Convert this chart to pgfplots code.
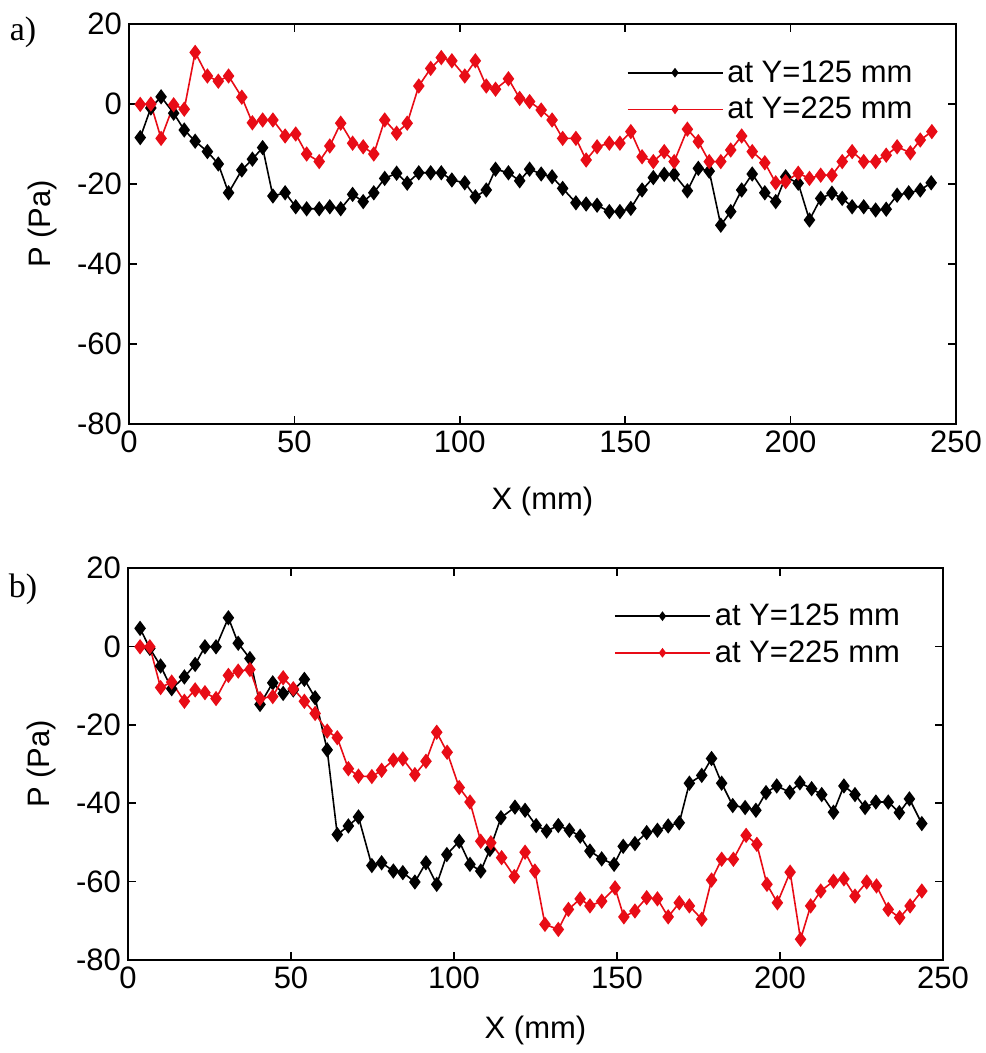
\documentclass[border=0pt]{standalone}
\usepackage{fontspec}
\setmainfont{Liberation Sans}
\newfontfamily\seriffont{Liberation Serif}
\usepackage{pgfplots}
\pgfplotsset{compat=1.18}
\definecolor{mred}{RGB}{232,12,22}

\pgfplotstableread{
x y
3.4 -8.4
6.6 -1.0
9.7 1.8
13.5 -2.3
16.7 -6.5
20.0 -9.3
23.7 -11.9
27.0 -15
30.1 -22.2
34.1 -16.5
37.3 -13.8
40.4 -10.9
43.5 -23
47.2 -22.2
50.4 -25.7
53.7 -26.2
57.5 -26.2
60.7 -25.7
64.0 -26.2
67.6 -22.6
70.8 -24.4
74.0 -22.2
77.3 -18.6
80.9 -17.3
84.1 -19.8
87.6 -17.2
91.2 -17.2
94.4 -17.2
97.6 -19
101.5 -19.7
104.7 -23.2
108.0 -21.5
110.8 -16.3
114.7 -17.2
118.1 -19.2
121.1 -16.3
124.6 -17.5
127.9 -18.2
131.1 -21.1
135.1 -24.7
138.2 -25
141.5 -25.3
145.2 -26.9
148.4 -26.9
151.7 -26.1
155.1 -21.5
158.5 -18.4
161.8 -17.6
164.8 -17.6
168.8 -21.7
172.1 -16.1
175.4 -16.8
178.9 -30.3
181.9 -26.9
185.2 -21.5
188.4 -17.5
192.2 -22.2
195.5 -24.4
198.5 -18.2
202.3 -19.8
205.7 -29
209.1 -23.6
212.5 -22.3
215.6 -23.6
218.6 -25.7
222.1 -25.7
225.7 -26.5
228.9 -26.3
232.2 -22.8
235.7 -22.2
239.2 -21.5
242.5 -19.7
}\topblack

\pgfplotstableread{
x y
3.4 -0.1
6.6 0
9.7 -8.6
13.5 -0.2
16.7 -1.3
20.0 12.9
23.7 7
27.0 5.7
30.1 7
34.1 1.7
37.3 -4.7
40.4 -4
43.5 -4
47.2 -8
50.4 -7.5
53.7 -12.5
57.5 -14.4
60.7 -10.5
64.0 -4.8
67.6 -9.8
70.8 -10.7
74.0 -12.5
77.3 -4
80.9 -7.3
84.1 -4.8
87.6 4.5
91.2 8.9
94.4 11.6
97.6 10.8
101.5 7
104.7 10.8
108.0 4.5
110.8 3.7
114.7 6.3
118.1 1.4
121.1 0.6
124.6 -1.5
127.9 -4
131.1 -8.6
135.1 -8.6
138.2 -14
141.5 -10.7
145.2 -9.8
148.4 -9.8
151.7 -6.9
155.1 -13.2
158.5 -14.4
161.8 -11.9
164.8 -14.4
168.8 -6.3
172.1 -9.4
175.4 -14.4
178.9 -14.4
181.9 -11.5
185.2 -8
188.4 -11.9
192.2 -14.7
195.5 -19.7
198.5 -19.4
202.3 -17.3
205.7 -18.6
209.1 -17.8
212.5 -17.8
215.6 -14.4
218.6 -11.9
222.1 -14.4
225.7 -14.4
228.9 -12.8
232.2 -10.7
236.2 -12.2
239.2 -9
242.7 -6.9
}\topred

\pgfplotstableread{
x y
3.7 4.6
6.7 -0.5
10 -5
13.4 -10.8
17.3 -7.8
20.6 -4.6
23.6 -0.1
27 -0.1
30.8 7.3
33.8 0.8
37.4 -3.1
40.5 -14.8
44.4 -9.3
47.6 -12
50.7 -11.1
54.1 -8.4
57.4 -13.1
61.1 -26.4
64.2 -48
67.6 -45.8
70.7 -43.5
74.8 -55.9
77.8 -55.2
81.4 -57.3
84.3 -57.7
88 -60.1
91.4 -55.2
94.7 -60.7
97.8 -53.1
101.6 -49.7
104.9 -55.6
108.2 -57.3
111 -51.8
114.4 -43.7
118.7 -41
121.8 -41.8
125.2 -45.7
128.4 -47.1
132 -45.7
135.4 -46.9
138.7 -48.4
141.7 -52.2
145.3 -54.2
149.1 -55.6
151.9 -51
155.5 -50.3
159.1 -47.5
162.4 -46.9
165.7 -45.8
169.1 -45
172.2 -34.9
176 -32.9
179 -28.6
182.1 -34.9
185.5 -40.6
189.3 -41.1
192.6 -41.8
195.7 -37.3
199 -35.6
203 -37.2
206.1 -34.8
209.7 -36.3
212.8 -37.8
216.4 -42.3
219.6 -35.6
223 -37.8
226.1 -41.1
229.4 -39.7
233.2 -39.7
236.6 -42.4
239.7 -38.9
243.5 -45.2
}\botblack

\pgfplotstableread{
x y
3.7 -0.1
6.7 -0.1
10 -10.5
13.4 -9.1
17.3 -14
20.6 -11.1
23.6 -11.8
27 -13.3
30.8 -7.4
33.8 -6.3
37.4 -5.9
40.5 -13.3
44.4 -12.8
47.6 -8
50.7 -10.8
54.1 -14
57.4 -17.1
61.1 -21.6
64.2 -23.3
67.6 -31.2
70.7 -33.1
74.8 -33.2
77.8 -31.6
81.4 -29
84.3 -28.7
88 -32.7
91.4 -29.3
94.7 -21.9
97.9 -27
101.6 -36
104.9 -39.7
108.2 -49.7
111.3 -50.1
114.6 -53.9
118.5 -58.7
121.8 -52.5
124.8 -57.3
127.9 -70.9
132 -72.2
135.1 -67.1
138.7 -64.4
141.7 -66.2
145.3 -65
149.4 -61.6
152.1 -69
155.5 -67.5
159.1 -64.1
162.4 -64.4
165.7 -69
169.1 -65.4
172.2 -66.2
176 -69.6
179 -59.6
182.1 -54.3
185.7 -54.3
189.6 -48.2
192.9 -50.5
196 -60.7
199.2 -65.4
203.1 -57.6
206.3 -74.7
209.4 -66.2
212.5 -62.4
216.4 -59.9
219.6 -59.3
223 -63.7
226.6 -60.1
229.6 -61.1
233.2 -67.1
236.7 -69.2
239.9 -66.2
243.5 -62.4
}\botred

\pgfplotsset{
  panel/.style={
    scale only axis,
    xmin=0,xmax=250,ymin=-80,ymax=20,
    xtick={0,50,...,250}, ytick={-80,-60,...,20},
    tick align=inside,
    major tick length=4pt,
    axis line style={line width=0.8pt},
    every tick/.style={black,line width=0.8pt},
    tick label style={font=\fontsize{15.5}{18}\selectfont},
    label style={font=\fontsize{15.5}{18}\selectfont},
    /pgf/number format/assume math mode=true,
    xlabel={X (mm)}, ylabel={P (Pa)},
    legend style={draw=none, fill=none, font=\fontsize{15.5}{18}\selectfont,
      at={(axis description cs:0.96,0.93)}, anchor=north east,
      legend cell align=left, row sep=2pt},
    legend image code/.code={
      \draw[mark repeat=2,mark phase=2,##1,mark size=1.8pt] plot coordinates {(0pt,0pt) (23.75pt,0pt) (47.5pt,0pt)};
    },
  },
  ser/.style={line width=0.8pt, mark=diamond*, mark size=3.2pt},
}

\begin{document}
\begin{tikzpicture}
\path[use as bounding box] (-64.5pt,-314.5pt) rectangle (428pt,212pt);

\begin{axis}[panel, at={(0pt,0pt)}, anchor=south west, width=413.5pt, height=200pt,
  xlabel style={at={(axis description cs:0.5,-0.1925)}, anchor=center},
  ylabel style={at={(axis description cs:-0.105,0.5)}, anchor=center}]
\addplot[ser, black] table[x=x,y=y] {\topblack};
\addlegendentry{at Y=125 mm}
\addplot[ser, mred] table[x=x,y=y] {\topred};
\addlegendentry{at Y=225 mm}
\end{axis}

\begin{axis}[panel, at={(-0.5pt,-268pt)}, anchor=south west, width=407.5pt, height=196pt,
  xlabel style={at={(axis description cs:0.5,-0.1786)}, anchor=center},
  ylabel style={at={(axis description cs:-0.106,0.5)}, anchor=center}]
\addplot[ser, black] table[x=x,y=y] {\botblack};
\addlegendentry{at Y=125 mm}
\addplot[ser, mred] table[x=x,y=y] {\botred};
\addlegendentry{at Y=225 mm}
\end{axis}

\node[font=\seriffont\fontsize{17}{20}\selectfont] at (-53pt,196pt) {a)};
\node[font=\seriffont\fontsize{17}{20}\selectfont] at (-53pt,-82.5pt) {b)};
\end{tikzpicture}
\end{document}
